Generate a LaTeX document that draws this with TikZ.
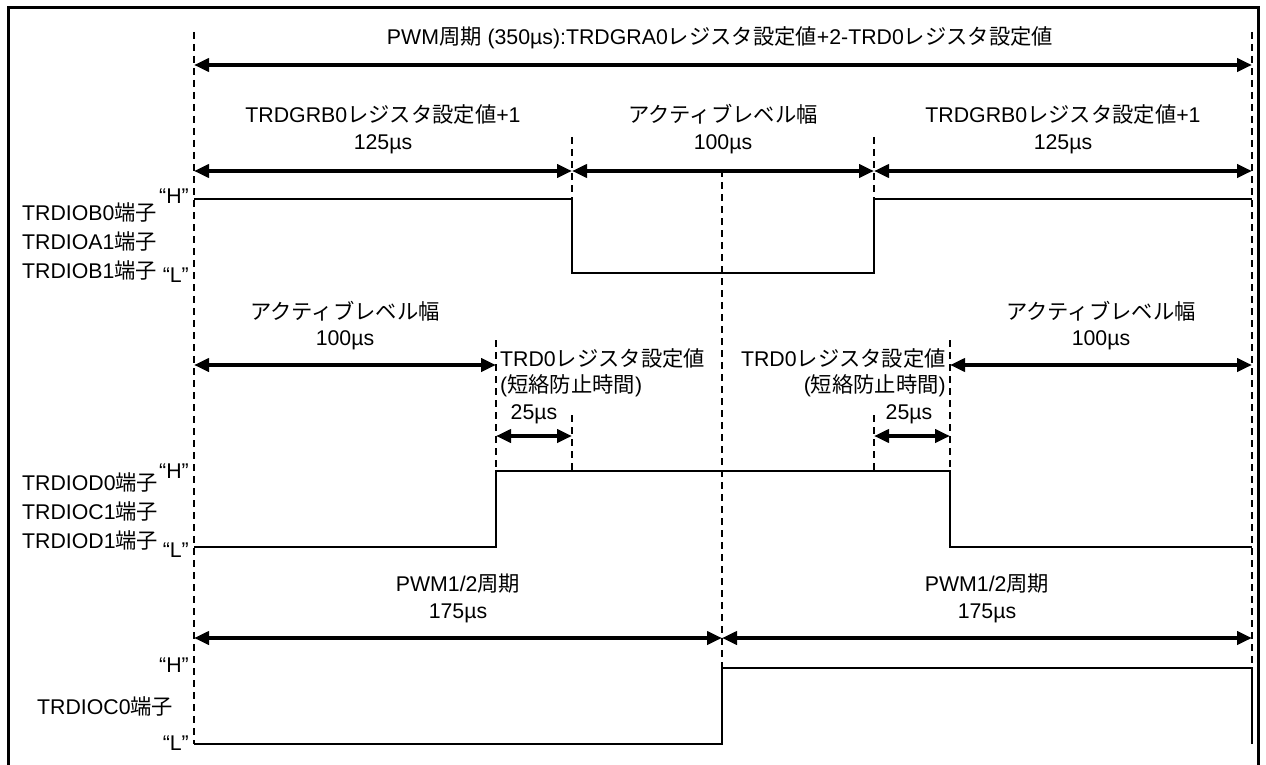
\documentclass[tikz,border=0pt]{standalone}
\usepackage{fontspec}
\setmainfont{Liberation Sans}
\newfontfamily\jpf{Noto Sans CJK JP}
\usetikzlibrary{arrows.meta}
\newcommand\J[1]{{\jpf #1}}
\begin{document}
\begin{tikzpicture}[x=1pt,y=-1pt,
  txt/.style={font=\fontsize{21.3pt}{25pt}\selectfont, inner sep=0pt},
  guide/.style={line width=1.6pt, dash pattern=on 7pt off 5pt},
  sig/.style={line width=2pt, line join=miter},
  dimarrow/.style={line width=3.8pt, {Triangle[length=15pt,width=13pt]}-{Triangle[length=15pt,width=13pt]}},
  frameline/.style={line width=3pt}]
\useasboundingbox (0,0) rectangle (1266,765);
% frame
\coordinate (fbl) at (8,765); \coordinate (ftl) at (8,8);
\coordinate (ftr) at (1258,8); \coordinate (fbr) at (1258,765);
\draw[frameline] (fbl) -- (ftl) -- (ftr) -- (fbr);
% guide lines
\coordinate (g0t) at (194,32);  \coordinate (g0b) at (194,744);
\coordinate (g6t) at (1252,32); \coordinate (g6b) at (1252,668);
\coordinate (g2t) at (572,137); \coordinate (g2b) at (572,199);
\coordinate (g4t) at (874,137); \coordinate (g4b) at (874,199);
\coordinate (g3t) at (722,170); \coordinate (g3b) at (722,668);
\coordinate (h1t) at (496,340); \coordinate (h1b) at (496,470);
\coordinate (h5t) at (950,340); \coordinate (h5b) at (950,470);
\coordinate (h2t) at (572,415); \coordinate (h2b) at (572,470);
\coordinate (h4t) at (874,415); \coordinate (h4b) at (874,470);
\foreach \a in {g0,g6,g2,g4,g3,h1,h5,h2,h4} \draw[guide] (\a t) -- (\a b);
% waveform 1
\coordinate (w1a) at (194,199); \coordinate (w1b) at (572,199);
\coordinate (w1c) at (572,273); \coordinate (w1d) at (874,273);
\coordinate (w1e) at (874,199); \coordinate (w1f) at (1252,199);
\draw[sig] (w1a) -- (w1b) -- (w1c) -- (w1d) -- (w1e) -- (w1f);
% waveform 2
\coordinate (w2a) at (194,547); \coordinate (w2b) at (496,547);
\coordinate (w2c) at (496,471); \coordinate (w2d) at (950,471);
\coordinate (w2e) at (950,547); \coordinate (w2f) at (1252,547);
\draw[sig] (w2a) -- (w2b) -- (w2c) -- (w2d) -- (w2e) -- (w2f);
% waveform 3
\coordinate (w3a) at (194,744); \coordinate (w3b) at (722,744);
\coordinate (w3c) at (722,668); \coordinate (w3d) at (1252,668);
\coordinate (w3e) at (1252,744);
\draw[sig] (w3a) -- (w3b) -- (w3c) -- (w3d) -- (w3e);
% dimension arrows
\coordinate (a0l) at (194,65); \coordinate (a0r) at (1252,65);
\coordinate (a1a) at (194,171); \coordinate (a1b) at (572,171);
\coordinate (a1c) at (874,171); \coordinate (a1d) at (1252,171);
\coordinate (a2a) at (194,365); \coordinate (a2b) at (496,365);
\coordinate (a2c) at (950,365); \coordinate (a2d) at (1252,365);
\coordinate (a3a) at (496,436); \coordinate (a3b) at (572,436);
\coordinate (a3c) at (874,436); \coordinate (a3d) at (950,436);
\coordinate (a4a) at (194,638); \coordinate (a4b) at (722,638);
\coordinate (a4c) at (1252,638);
\draw[dimarrow] (a0l) -- (a0r);
\draw[dimarrow] (a1a) -- (a1b);
\draw[dimarrow] (a1b) -- (a1c);
\draw[dimarrow] (a1c) -- (a1d);
\draw[dimarrow] (a2a) -- (a2b);
\draw[dimarrow] (a2c) -- (a2d);
\draw[dimarrow] (a3a) -- (a3b);
\draw[dimarrow] (a3c) -- (a3d);
\draw[dimarrow] (a4a) -- (a4b);
\draw[dimarrow] (a4b) -- (a4c);
% labels
\node[txt] (ttop) at (720,38) {PWM\J{周期} (350µs):TRDGRA0\J{レジスタ設定値}+2-TRD0\J{レジスタ設定値}};
\node[txt] (l1a) at (383,114) {TRDGRB0\J{レジスタ設定値}+1};
\node[txt] (l1b) at (383,144) {125µs};
\node[txt] (l2a) at (723,114) {\J{アクティブレベル幅}};
\node[txt] (l2b) at (723,144) {100µs};
\node[txt] (l3a) at (1063,114) {TRDGRB0\J{レジスタ設定値}+1};
\node[txt] (l3b) at (1063,144) {125µs};
\node[txt] (l4a) at (345,311) {\J{アクティブレベル幅}};
\node[txt] (l4b) at (345,340) {100µs};
\node[txt] (l5a) at (1101,311) {\J{アクティブレベル幅}};
\node[txt] (l5b) at (1101,340) {100µs};
\node[txt,anchor=west] (l6a) at (500,358) {TRD0\J{レジスタ設定値}};
\node[txt,anchor=west] (l6b) at (500,386) {(\J{短絡防止時間})};
\node[txt,anchor=east] (l7a) at (946,358) {TRD0\J{レジスタ設定値}};
\node[txt,anchor=east] (l7b) at (946,386) {(\J{短絡防止時間})};
\node[txt] (l8) at (534,414) {25µs};
\node[txt] (l9) at (909,414) {25µs};
\node[txt] (l10a) at (458,584) {PWM1/2\J{周期}};
\node[txt] (l10b) at (458,613) {175µs};
\node[txt] (l11a) at (987,584) {PWM1/2\J{周期}};
\node[txt] (l11b) at (987,613) {175µs};
% pin labels
\node[txt,anchor=west] (p1) at (22,212) {TRDIOB0\J{端子}};
\node[txt,anchor=west] (p2) at (22,241) {TRDIOA1\J{端子}};
\node[txt,anchor=west] (p3) at (22,270) {TRDIOB1\J{端子}};
\node[txt,anchor=east] (h1) at (189,196) {“H”};
\node[txt,anchor=east] (lo1) at (189,275) {“L”};
\node[txt,anchor=west] (p4) at (22,482) {TRDIOD0\J{端子}};
\node[txt,anchor=west] (p5) at (22,511) {TRDIOC1\J{端子}};
\node[txt,anchor=west] (p6) at (22,540) {TRDIOD1\J{端子}};
\node[txt,anchor=east] (h2) at (189,471) {“H”};
\node[txt,anchor=east] (lo2) at (189,550) {“L”};
\node[txt,anchor=west] (p7) at (37,706) {TRDIOC0\J{端子}};
\node[txt,anchor=east] (h3) at (189,665) {“H”};
\node[txt,anchor=east] (lo3) at (189,743) {“L”};
\end{tikzpicture}
\end{document}
